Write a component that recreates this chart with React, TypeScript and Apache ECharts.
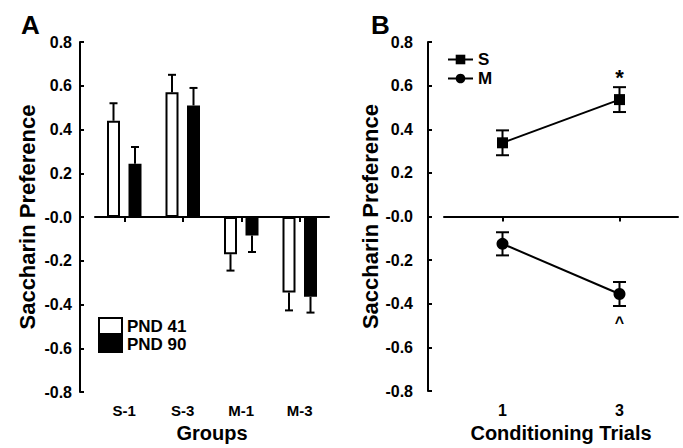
import React, { useEffect, useRef } from "react";
import * as echarts from "echarts";

const FONT = '"Liberation Sans", Arial, Helvetica, sans-serif';

// Panel A data
const groups = ["S-1", "S-3", "M-1", "M-3"];
const pnd41 = [0.44, 0.57, -0.17, -0.345];
const pnd41Err = [0.08, 0.08, 0.075, 0.082];
const pnd90 = [0.243, 0.51, -0.084, -0.365];
const pnd90Err = [0.077, 0.08, 0.076, 0.072];

// Panel B data
const trials = ["1", "3"];
const sVals = [0.338, 0.536];
const sErr = [0.057, 0.057];
const mVals = [-0.125, -0.355];
const mErr = [0.053, 0.055];
const sNotes = ["", "*"];
const mNotes = ["", "^"];

const yMin = -0.8;
const yMax = 0.8;
const yInterval = 0.2;

const BAR_W = 13;
const BAR_GAP_PX = 8.5;
const BAR_OFFSET = (BAR_W + BAR_GAP_PX) / 2;

const fmtY = (v: number) => (Math.abs(v) < 1e-9 ? "-0.0" : v.toFixed(1));

function barErr(offset: number) {
  return (params: any, api: any) => {
    const i = api.value(0);
    const v = api.value(1);
    const e = api.value(2);
    const end = v + (v >= 0 ? e : -e);
    const p0 = api.coord([i, v]);
    const p1 = api.coord([i, end]);
    const x = p0[0] + offset;
    return {
      type: "group",
      children: [
        { type: "line", shape: { x1: x, y1: p0[1], x2: x, y2: p1[1] }, style: { stroke: "#000", lineWidth: 2 } },
        { type: "line", shape: { x1: x - 4, y1: p1[1], x2: x + 4, y2: p1[1] }, style: { stroke: "#000", lineWidth: 2 } },
      ],
    };
  };
}

function symErr(params: any, api: any) {
  const i = api.value(0);
  const v = api.value(1);
  const e = api.value(2);
  const pt = api.coord([i, v + e]);
  const pb = api.coord([i, v - e]);
  const x = pt[0];
  return {
    type: "group",
    children: [
      { type: "line", shape: { x1: x, y1: pt[1], x2: x, y2: pb[1] }, style: { stroke: "#000", lineWidth: 2 } },
      { type: "line", shape: { x1: x - 6.5, y1: pt[1], x2: x + 6.5, y2: pt[1] }, style: { stroke: "#000", lineWidth: 2 } },
      { type: "line", shape: { x1: x - 6.5, y1: pb[1], x2: x + 6.5, y2: pb[1] }, style: { stroke: "#000", lineWidth: 2 } },
    ],
  };
}

const yAxisBase = (gridIndex: number, offset: number, margin: number) => ({
  type: "value",
  gridIndex,
  min: yMin,
  max: yMax,
  interval: yInterval,
  offset,
  name: "Saccharin Preference",
  nameLocation: "middle",
  nameGap: 42,
  nameTextStyle: { fontFamily: FONT, fontWeight: "bold", fontSize: 22, color: "#000" },
  axisLine: { show: true, lineStyle: { color: "#000", width: 2 } },
  axisTick: { show: true, inside: true, length: 4, lineStyle: { color: "#000", width: 2 } },
  axisLabel: { formatter: fmtY, margin, fontFamily: FONT, fontWeight: "bold", fontSize: 16, color: "#000" },
  splitLine: { show: false },
});

const labelAxis = (gridIndex: number, data: string[], name: string, size: number) => ({
  type: "category",
  gridIndex,
  data,
  position: "bottom",
  name,
  nameLocation: "middle",
  nameGap: 31,
  nameTextStyle: { fontFamily: FONT, fontWeight: "bold", fontSize: 20, color: "#000" },
  axisLine: { show: false, onZero: false },
  axisTick: { show: false },
  axisLabel: { margin: 11, fontFamily: FONT, fontWeight: "bold", fontSize: size, color: "#000" },
});

const zeroAxis = (gridIndex: number, data: string[]) => ({
  type: "category",
  gridIndex,
  data,
  position: "top",
  axisLine: { show: true, onZero: true, lineStyle: { color: "#000", width: 2 } },
  axisTick: { show: true, alignWithLabel: true, length: 5, inside: true, lineStyle: { color: "#000", width: 2 } },
  axisLabel: { show: false },
});

export default function App() {
  const ref = useRef<HTMLDivElement>(null);
  useEffect(() => {
    if (!ref.current) return;
    const chart = echarts.init(ref.current, null, { renderer: "svg" });
    chart.setOption({
      animation: false,
      backgroundColor: "#fff",
      textStyle: { fontFamily: FONT },
      title: [
        { text: "A", left: 16, top: 7, textStyle: { fontFamily: FONT, fontWeight: "bold", fontSize: 26, color: "#000" } },
        { text: "B", left: 366, top: 7, textStyle: { fontFamily: FONT, fontWeight: "bold", fontSize: 26, color: "#000" } },
      ],
      grid: [
        { left: 95, top: 42, width: 234, height: 356 },
        { left: 444, top: 42, width: 234, height: 356 },
      ],
      legend: [
        {
          data: ["PND 41", "PND 90"],
          orient: "vertical",
          left: 93,
          top: 312,
          itemWidth: 23,
          itemHeight: 16,
          itemGap: 0,
          icon: "rect",
          textStyle: { fontFamily: FONT, fontWeight: "bold", fontSize: 17, lineHeight: 17, color: "#000" },
        },
        {
          data: ["S", "M"],
          orient: "vertical",
          left: 442,
          top: 46,
          itemWidth: 25,
          itemHeight: 12,
          itemGap: 2,
          textStyle: { fontFamily: FONT, fontWeight: "bold", fontSize: 17, lineHeight: 17, color: "#000" },
        },
      ],
      xAxis: [
        labelAxis(0, groups, "Groups", 15),
        zeroAxis(0, groups),
        labelAxis(1, trials, "Conditioning Trials", 16),
        zeroAxis(1, trials),
      ],
      yAxis: [yAxisBase(0, 15, 8), yAxisBase(1, 16, 15)],
      series: [
        {
          name: "PND 41",
          type: "bar",
          xAxisIndex: 0,
          yAxisIndex: 0,
          data: pnd41,
          barWidth: BAR_W,
          barGap: (BAR_GAP_PX / BAR_W) * 100 + "%",
          itemStyle: { color: "#fff", borderColor: "#000", borderWidth: 2 },
        },
        {
          name: "PND 90",
          type: "bar",
          xAxisIndex: 0,
          yAxisIndex: 0,
          data: pnd90,
          barWidth: BAR_W,
          itemStyle: { color: "#000", borderColor: "#000", borderWidth: 2 },
        },
        {
          type: "custom",
          xAxisIndex: 0,
          yAxisIndex: 0,
          renderItem: barErr(-BAR_OFFSET),
          encode: { x: 0, y: 1 },
          data: groups.map((g, i) => [i, pnd41[i], pnd41Err[i]]),
          z: 3,
        },
        {
          type: "custom",
          xAxisIndex: 0,
          yAxisIndex: 0,
          renderItem: barErr(BAR_OFFSET),
          encode: { x: 0, y: 1 },
          data: groups.map((g, i) => [i, pnd90[i], pnd90Err[i]]),
          z: 3,
        },
        {
          name: "S",
          type: "line",
          xAxisIndex: 2,
          yAxisIndex: 1,
          symbol: "rect",
          symbolSize: 11,
          itemStyle: { color: "#000" },
          lineStyle: { color: "#000", width: 2 },
          data: sVals.map((v, i) => ({
            value: v,
            label: {
              show: !!sNotes[i],
              formatter: sNotes[i],
              position: "top",
              distance: 6,
              fontFamily: FONT,
              fontWeight: "bold",
              fontSize: 22,
              color: "#000",
            },
          })),
          z: 4,
        },
        {
          name: "M",
          type: "line",
          xAxisIndex: 2,
          yAxisIndex: 1,
          symbol: "circle",
          symbolSize: 12,
          itemStyle: { color: "#000" },
          lineStyle: { color: "#000", width: 2 },
          data: mVals.map((v, i) => ({
            value: v,
            label: {
              show: !!mNotes[i],
              formatter: mNotes[i],
              position: "bottom",
              distance: 14,
              fontFamily: FONT,
              fontWeight: "bold",
              fontSize: 16,
              color: "#000",
            },
          })),
          z: 4,
        },
        {
          type: "custom",
          xAxisIndex: 2,
          yAxisIndex: 1,
          renderItem: symErr,
          encode: { x: 0, y: 1 },
          data: trials.map((t, i) => [i, sVals[i], sErr[i]]),
          z: 3,
        },
        {
          type: "custom",
          xAxisIndex: 2,
          yAxisIndex: 1,
          renderItem: symErr,
          encode: { x: 0, y: 1 },
          data: trials.map((t, i) => [i, mVals[i], mErr[i]]),
          z: 3,
        },
      ],
    });
    return () => chart.dispose();
  }, []);
  return <div ref={ref} style={{ position: "absolute", left: 0, top: 0, width: 683, height: 448 }} />;
}
